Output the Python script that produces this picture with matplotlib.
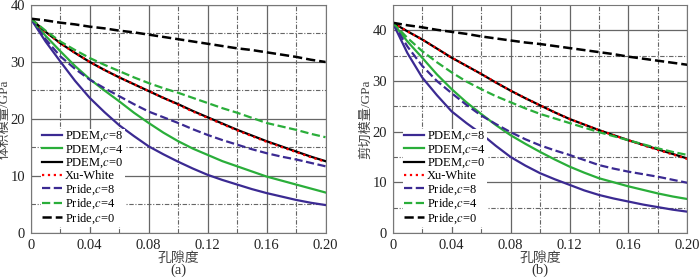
import numpy as np
import matplotlib.pyplot as plt

# 孔隙度
phi = [0.00, 0.01, 0.02, 0.03, 0.04, 0.05, 0.06, 0.07, 0.08, 0.09, 0.10,
       0.11, 0.12, 0.13, 0.14, 0.15, 0.16, 0.17, 0.18, 0.19, 0.20]

# (a) 体积模量
k_pdem8 = [37.6, 33.6, 30.1, 26.7, 23.7, 21.2, 18.9, 17.0, 15.2, 13.8, 12.5,
           11.3, 10.2, 9.3, 8.5, 7.7, 7.0, 6.4, 5.8, 5.3, 4.9]
k_pdem4 = [37.6, 34.6, 31.9, 29.3, 27.0, 25.0, 23.1, 21.1, 19.3, 17.6, 16.1,
           14.8, 13.7, 12.6, 11.7, 10.8, 9.9, 9.2, 8.5, 7.8, 7.1]
k_pdem0 = [37.6, 35.3, 33.3, 31.6, 30.0, 28.6, 27.3, 26.1, 24.9, 23.7, 22.6,
           21.4, 20.3, 19.2, 18.1, 17.1, 16.1, 15.2, 14.3, 13.4, 12.6]
k_xuwhite = [37.6, 35.3, 33.3, 31.6, 30.0, 28.6, 27.3, 26.1, 24.9, 23.7, 22.5,
             21.3, 20.2, 19.1, 18.0, 17.0, 16.0, 15.1, 14.2, 13.3, 12.5]
k_pride8 = [37.6, 34.0, 31.0, 28.8, 26.9, 25.4, 24.0, 22.6, 21.3, 20.3, 19.3,
            18.2, 17.2, 16.3, 15.5, 14.7, 14.0, 13.4, 12.9, 12.3, 11.7]
k_pride4 = [37.6, 35.5, 33.6, 32.1, 30.7, 29.5, 28.4, 27.3, 26.3, 25.4, 24.6,
            23.7, 22.8, 21.9, 21.1, 20.2, 19.3, 18.7, 18.1, 17.4, 16.8]
k_pride0 = [37.6, 37.3, 36.9, 36.6, 36.2, 35.9, 35.5, 35.2, 34.8, 34.4, 34.0,
            33.6, 33.2, 32.8, 32.4, 32.1, 31.7, 31.3, 30.9, 30.4, 30.0]

# (b) 剪切模量
g_pdem8 = [41.5, 35.5, 30.7, 27.2, 24.0, 21.7, 19.6, 17.2, 15.0, 13.3, 11.8,
           10.6, 9.5, 8.4, 7.5, 6.8, 6.2, 5.6, 5.1, 4.6, 4.2]
g_pdem4 = [41.5, 37.8, 34.6, 31.3, 28.4, 25.8, 23.5, 21.3, 19.3, 17.6, 16.0,
           14.5, 13.1, 11.9, 10.8, 10.0, 9.2, 8.5, 7.8, 7.2, 6.7]
g_pdem0 = [41.5, 39.8, 38.2, 36.4, 34.6, 33.0, 31.4, 29.7, 28.1, 26.6, 25.2,
           23.8, 22.5, 21.4, 20.3, 19.3, 18.3, 17.4, 16.5, 15.6, 14.7]
g_xuwhite = [41.5, 39.8, 38.2, 36.4, 34.6, 33.0, 31.4, 29.7, 28.1, 26.6, 25.2,
             23.8, 22.5, 21.4, 20.3, 19.3, 18.3, 17.3, 16.4, 15.5, 14.6]
g_pride8 = [41.5, 36.8, 33.0, 30.0, 27.6, 25.3, 23.2, 21.5, 19.9, 18.5, 17.3,
            16.3, 15.4, 14.4, 13.4, 12.7, 12.1, 11.6, 11.1, 10.5, 9.9]
g_pride4 = [41.5, 38.5, 35.9, 33.7, 31.7, 29.9, 28.4, 27.0, 25.8, 24.6, 23.5,
            22.6, 21.7, 20.8, 19.9, 19.1, 18.3, 17.5, 16.7, 16.0, 15.4]
g_pride0 = [41.5, 41.0, 40.6, 40.1, 39.7, 39.3, 38.8, 38.4, 38.0, 37.6, 37.3,
            36.9, 36.5, 36.1, 35.7, 35.3, 34.8, 34.4, 34.0, 33.6, 33.2]

labels = ['PDEM,$c$=8', 'PDEM,$c$=4', 'PDEM,$c$=0', 'Xu-White',
          'Pride,$c$=8', 'Pride,$c$=4', 'Pride,$c$=0']
xticks = [0, 0.04, 0.08, 0.12, 0.16, 0.20]
xticklabels = ['0', '0.04', '0.08', '0.12', '0.16', '0.20']

blue = '#3b2a92'
green = '#2aae3a'
fonts = ['Liberation Serif', 'Noto Sans CJK SC']
plt.rcParams['font.family'] = fonts
plt.rcParams['mathtext.fontset'] = 'stix'


def draw(ax, series, ylabel, ymax, tag):
    styles = [(blue, '-', 1.6), (green, '-', 1.6), ('black', '-', 1.6),
              ('red', ':', 1.6), (blue, '--', 1.6), (green, '--', 1.6),
              ('black', '--', 1.8)]
    for ys, lab, (c, ls, lw) in zip(series, labels, styles):
        ax.plot(phi, ys, color=c, ls=ls, lw=lw, label=lab)
    ax.set_xlim(0, 0.2)
    ax.set_ylim(0, ymax)
    ax.set_xticks(xticks)
    ax.set_xticklabels(xticklabels)
    ax.set_xticks(np.arange(0.02, 0.2, 0.04), minor=True)
    ax.set_yticks([0, 10, 20, 30, 40])
    ax.set_yticks([5, 15, 25, 35], minor=True)
    ax.grid(which='major', color='#666666', ls='-', lw=0.9)
    ax.grid(which='minor', color='#666666', ls=(0, (4, 1.5, 1, 1.5)), lw=0.8)
    ax.tick_params(which='both', length=0, labelsize=10.5, pad=4, colors='#222222')
    for s in ax.spines.values():
        s.set_color('#777777')
    ax.set_ylabel(ylabel, fontsize=9.5, color='#444444', labelpad=0)
    ax.set_xlabel('孔隙度', fontsize=10, color='#444444', labelpad=0)
    ax.text(0.5, -0.165, tag, transform=ax.transAxes, ha='center', va='center',
            fontsize=10.5, color='#333333')
    leg = ax.legend(loc='lower left', bbox_to_anchor=(0.035, 0.025), fontsize=9,
                    frameon=True, fancybox=False, handlelength=1.6,
                    handletextpad=0.2, labelspacing=0.0, borderpad=0.1,
                    borderaxespad=0.0)
    leg.get_frame().set_facecolor('white')
    leg.get_frame().set_edgecolor('none')
    leg.get_frame().set_alpha(1)


fig = plt.figure(figsize=(7, 2.78), dpi=100)
ax1 = fig.add_axes([0.044, 0.162, 0.421, 0.820])
ax2 = fig.add_axes([0.561, 0.162, 0.421, 0.820])

draw(ax1, [k_pdem8, k_pdem4, k_pdem0, k_xuwhite, k_pride8, k_pride4, k_pride0],
     '体积模量/GPa', 40, '(a)')
draw(ax2, [g_pdem8, g_pdem4, g_pdem0, g_xuwhite, g_pride8, g_pride4, g_pride0],
     '剪切模量/GPa', 45, '(b)')

fig.savefig('out.png', dpi=100)
